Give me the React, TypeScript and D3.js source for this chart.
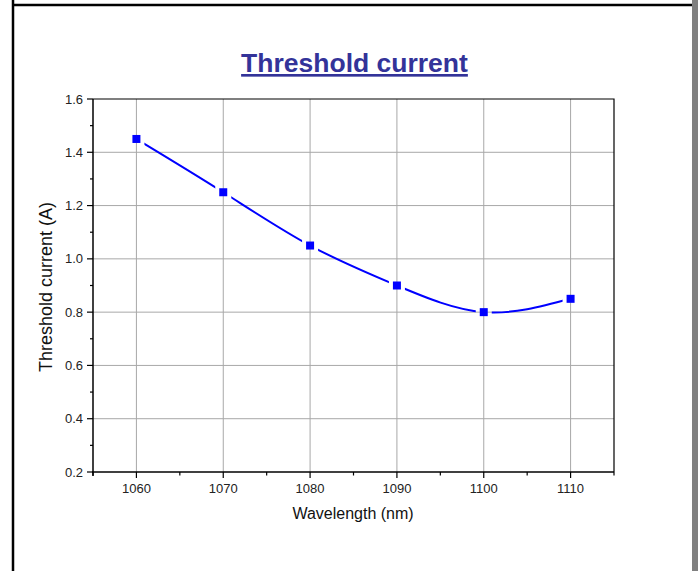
import React, {useEffect, useRef} from 'react';
import * as d3 from 'd3';

// data
const wavelengths: number[] = [1060, 1070, 1080, 1090, 1100, 1110];
const thresholdCurrent: number[] = [1.45, 1.25, 1.05, 0.9, 0.8, 0.85];
const xTicks: number[] = [1060, 1070, 1080, 1090, 1100, 1110];
const xMinorTicks: number[] = [1055, 1065, 1075, 1085, 1095, 1105, 1115];
const yTicks: number[] = [0.2, 0.4, 0.6, 0.8, 1.0, 1.2, 1.4, 1.6];
const yMinorTicks: number[] = [0.3, 0.5, 0.7, 0.9, 1.1, 1.3, 1.5];

const App = () => {
  const ref = useRef<SVGSVGElement | null>(null);

  useEffect(() => {
    drawChart();
    return () => {
      if (ref.current) d3.select(ref.current).selectAll('*').remove();
    };
  }, []);

  const drawChart = () => {
    const width = 698;
    const height = 571;
    const plot = {left: 93, right: 614, top: 99, bottom: 472};
    const font = '"Liberation Sans", Arial, sans-serif';

    const svg = d3.select(ref.current);

    // page frame
    svg.append('rect').attr('x', 0).attr('y', 0).attr('width', width).attr('height', height).attr('fill', 'white');
    svg.append('line').attr('x1', 13).attr('x2', 13).attr('y1', 0).attr('y2', height)
      .attr('stroke', 'black').attr('stroke-width', 2.5);
    svg.append('line').attr('x1', 12).attr('x2', 692).attr('y1', 5).attr('y2', 5)
      .attr('stroke', 'black').attr('stroke-width', 2.5);
    svg.append('rect').attr('x', 692).attr('y', 0).attr('width', 6).attr('height', height).attr('fill', '#808080');

    const x = d3.scaleLinear().domain([1055, 1115]).range([plot.left, plot.right]);
    const y = d3.scaleLinear().domain([0.2, 1.6]).range([plot.bottom, plot.top]);

    // grid
    svg.append('g').selectAll('line').data(xTicks).enter().append('line')
      .attr('x1', d => x(d)).attr('x2', d => x(d))
      .attr('y1', plot.top).attr('y2', plot.bottom)
      .attr('stroke', '#a8a8a8').attr('stroke-width', 1);
    svg.append('g').selectAll('line').data(yTicks.slice(1, -1)).enter().append('line')
      .attr('x1', plot.left).attr('x2', plot.right)
      .attr('y1', d => y(d)).attr('y2', d => y(d))
      .attr('stroke', '#a8a8a8').attr('stroke-width', 1);

    // top and right frame of the plot
    svg.append('path')
      .attr('d', `M${plot.left},${plot.top}H${plot.right}V${plot.bottom}`)
      .attr('fill', 'none').attr('stroke', 'black').attr('stroke-width', 1.2);

    // left axis
    const gy = svg.append('g');
    gy.append('line').attr('x1', plot.left).attr('x2', plot.left).attr('y1', plot.top).attr('y2', plot.bottom + 4)
      .attr('stroke', 'black').attr('stroke-width', 1.5);
    gy.selectAll('.major').data(yTicks).enter().append('line')
      .attr('x1', plot.left - 6).attr('x2', plot.left)
      .attr('y1', d => y(d)).attr('y2', d => y(d))
      .attr('stroke', 'black').attr('stroke-width', 1.2);
    gy.selectAll('.minor').data(yMinorTicks).enter().append('line')
      .attr('x1', plot.left - 3).attr('x2', plot.left)
      .attr('y1', d => y(d)).attr('y2', d => y(d))
      .attr('stroke', 'black').attr('stroke-width', 1.2);
    gy.selectAll('text').data(yTicks).enter().append('text')
      .attr('x', plot.left - 10).attr('y', d => y(d) + 4.5)
      .attr('text-anchor', 'end')
      .attr('font-family', font).attr('font-size', '13px').attr('fill', '#222')
      .text(d => d3.format('.1f')(d));

    // bottom axis
    const gx = svg.append('g');
    gx.append('line').attr('x1', plot.left - 1).attr('x2', plot.right).attr('y1', plot.bottom).attr('y2', plot.bottom)
      .attr('stroke', 'black').attr('stroke-width', 1.5);
    gx.selectAll('.major').data(xTicks).enter().append('line')
      .attr('x1', d => x(d)).attr('x2', d => x(d))
      .attr('y1', plot.bottom).attr('y2', plot.bottom + 6)
      .attr('stroke', 'black').attr('stroke-width', 1.2);
    gx.selectAll('.minor').data(xMinorTicks).enter().append('line')
      .attr('x1', d => x(d)).attr('x2', d => x(d))
      .attr('y1', plot.bottom).attr('y2', plot.bottom + 3.5)
      .attr('stroke', 'black').attr('stroke-width', 1.2);
    gx.selectAll('text').data(xTicks).enter().append('text')
      .attr('x', d => x(d)).attr('y', 493)
      .attr('text-anchor', 'middle')
      .attr('font-family', font).attr('font-size', '13px').attr('fill', '#222')
      .text(d => d);

    // axis titles
    svg.append('text')
      .attr('x', 353).attr('y', 519)
      .attr('text-anchor', 'middle')
      .attr('font-family', font).attr('font-size', '16px').attr('fill', '#111')
      .text('Wavelength (nm)');
    svg.append('text')
      .attr('transform', `translate(52,287) rotate(-90)`)
      .attr('text-anchor', 'middle')
      .attr('font-family', font).attr('font-size', '18px').attr('fill', '#111')
      .text('Threshold current (A)');

    // chart title
    svg.append('text')
      .attr('x', 354.5).attr('y', 72)
      .attr('text-anchor', 'middle')
      .attr('font-family', font).attr('font-size', '26.5px').attr('font-weight', 'bold')
      .attr('fill', '#333399')
      .style('text-decoration', 'underline')
      .text('Threshold current');

    const points = wavelengths.map((w, i) => [w, thresholdCurrent[i]] as [number, number]);

    // the line leaves a little gap around each marker
    const mask = svg.append('defs').append('mask').attr('id', 'lineGap')
      .attr('maskUnits', 'userSpaceOnUse').attr('x', 0).attr('y', 0).attr('width', width).attr('height', height);
    mask.append('rect').attr('width', width).attr('height', height).attr('fill', 'white');
    mask.selectAll('rect.gap').data(points).enter().append('rect').attr('class', 'gap')
      .attr('x', d => x(d[0]) - 8).attr('y', d => y(d[1]) - 8)
      .attr('width', 16).attr('height', 16).attr('fill', 'black');

    const line = d3.line<[number, number]>()
      .x(d => x(d[0])).y(d => y(d[1]))
      .curve(d3.curveNatural);

    svg.append('path')
      .datum(points)
      .attr('d', line)
      .attr('fill', 'none')
      .attr('stroke', '#0000ff')
      .attr('stroke-width', 2)
      .attr('mask', 'url(#lineGap)');

    svg.append('g').selectAll('rect').data(points).enter().append('rect')
      .attr('x', d => x(d[0]) - 4).attr('y', d => y(d[1]) - 4)
      .attr('width', 8).attr('height', 8)
      .attr('fill', '#0000ff');
  };

  return (
    <div style={{position: 'absolute', left: 0, top: 0}}>
      <svg ref={ref} width={698} height={571} style={{display: 'block'}}></svg>
    </div>
  );
};

export default App;
